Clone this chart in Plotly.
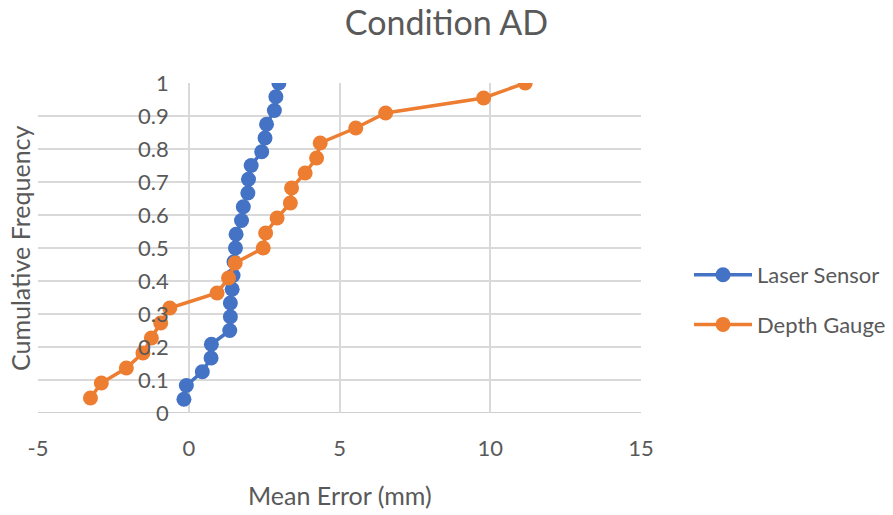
import plotly.graph_objects as go

laser_x = [-0.16, -0.08, 0.45, 0.74, 0.75, 1.36, 1.38, 1.38, 1.44, 1.47, 1.50, 1.55,
           1.57, 1.75, 1.81, 1.96, 1.98, 2.07, 2.42, 2.53, 2.58, 2.84, 2.89, 2.99]
laser_y = [(i + 1) / 24 for i in range(24)]

depth_x = [-3.26, -2.90, -2.07, -1.52, -1.24, -0.93, -0.63, 0.94, 1.32, 1.54, 2.47,
           2.55, 2.93, 3.37, 3.41, 3.86, 4.24, 4.36, 5.54, 6.53, 9.78, 11.16]
depth_y = [(i + 1) / 22 for i in range(22)]

x_ticks = [-5, 0, 5, 10, 15]
x_tick_text = ["-5", "0", "5", "10", "15"]
y_ticks = [0, 0.1, 0.2, 0.3, 0.4, 0.5, 0.6, 0.7, 0.8, 0.9, 1]
y_tick_text = ["0", "0.1", "0.2", "0.3", "0.4", "0.5", "0.6", "0.7", "0.8", "0.9", "1"]

FONT = "Lato"
GREY = "#595959"
GRID = "#d9d9d9"

fig = go.Figure()
fig.add_trace(go.Scatter(x=laser_x, y=laser_y, mode="lines+markers", name="Laser Sensor",
                         legendgroup="a",
                         line=dict(color="#4472C4", width=3.5),
                         marker=dict(color="#4472C4", size=15)))
fig.add_trace(go.Scatter(x=depth_x, y=depth_y, mode="lines+markers", name="Depth Gauge",
                         legendgroup="b",
                         line=dict(color="#ED7D31", width=3.5),
                         marker=dict(color="#ED7D31", size=15)))

L, R, T, B = 38, 252, 83, 102
W, H = 893, 515
x0_frac = (0 - (-5)) / 20.0

fig.update_layout(
    width=W, height=H,
    margin=dict(l=L, r=R, t=T, b=B),
    paper_bgcolor="white", plot_bgcolor="white",
    font=dict(family=FONT, color=GREY, size=22),
    title=dict(text="Condition AD", x=0.5, xanchor="center", y=1 - 23 / H, yanchor="middle",
               font=dict(size=34, color=GREY, family=FONT)),
    xaxis=dict(range=[-5, 15], tickvals=x_ticks, ticktext=x_tick_text, showgrid=True,
               gridcolor=GRID, gridwidth=1.5,
               zeroline=False, showline=False, ticks="", ticklabelstandoff=20,
               tickfont=dict(size=22, color=GREY), fixedrange=True),
    yaxis=dict(range=[0, 1], tickvals=y_ticks, ticktext=y_tick_text, showgrid=True,
               gridcolor=GRID, gridwidth=1.5, zeroline=False, showline=False,
               anchor="free", position=x0_frac, ticks="", ticklabelstandoff=20,
               tickfont=dict(size=22, color=GREY), fixedrange=True),
    legend=dict(xref="container", yref="container", x=689 / W, y=1 - 300 / H,
                xanchor="left", yanchor="middle", itemwidth=58, tracegroupgap=18,
                font=dict(size=22, color=GREY, family=FONT), bgcolor="rgba(0,0,0,0)"),
    showlegend=True,
)

fig.add_shape(type="line", xref="x", yref="y", x0=0, x1=0, y0=0, y1=1,
              line=dict(color="#bfbfbf", width=1.5), layer="below")
fig.add_shape(type="line", xref="x", yref="y", x0=-5, x1=15, y0=0, y1=0,
              line=dict(color="#bfbfbf", width=1.5), layer="below")

fig.add_annotation(text="Cumulative Frequency", xref="paper", yref="paper",
                   x=-(L - 20) / (W - L - R), y=0.5, textangle=-90, showarrow=False,
                   xanchor="center", yanchor="middle", font=dict(size=25, color=GREY, family=FONT))
fig.add_annotation(text="Mean Error (mm)", xref="paper", yref="paper",
                   x=0.5, y=-(495 - (H - B)) / (H - T - B), showarrow=False,
                   xanchor="center", yanchor="middle", font=dict(size=25, color=GREY, family=FONT))

fig.write_html("out.html")
